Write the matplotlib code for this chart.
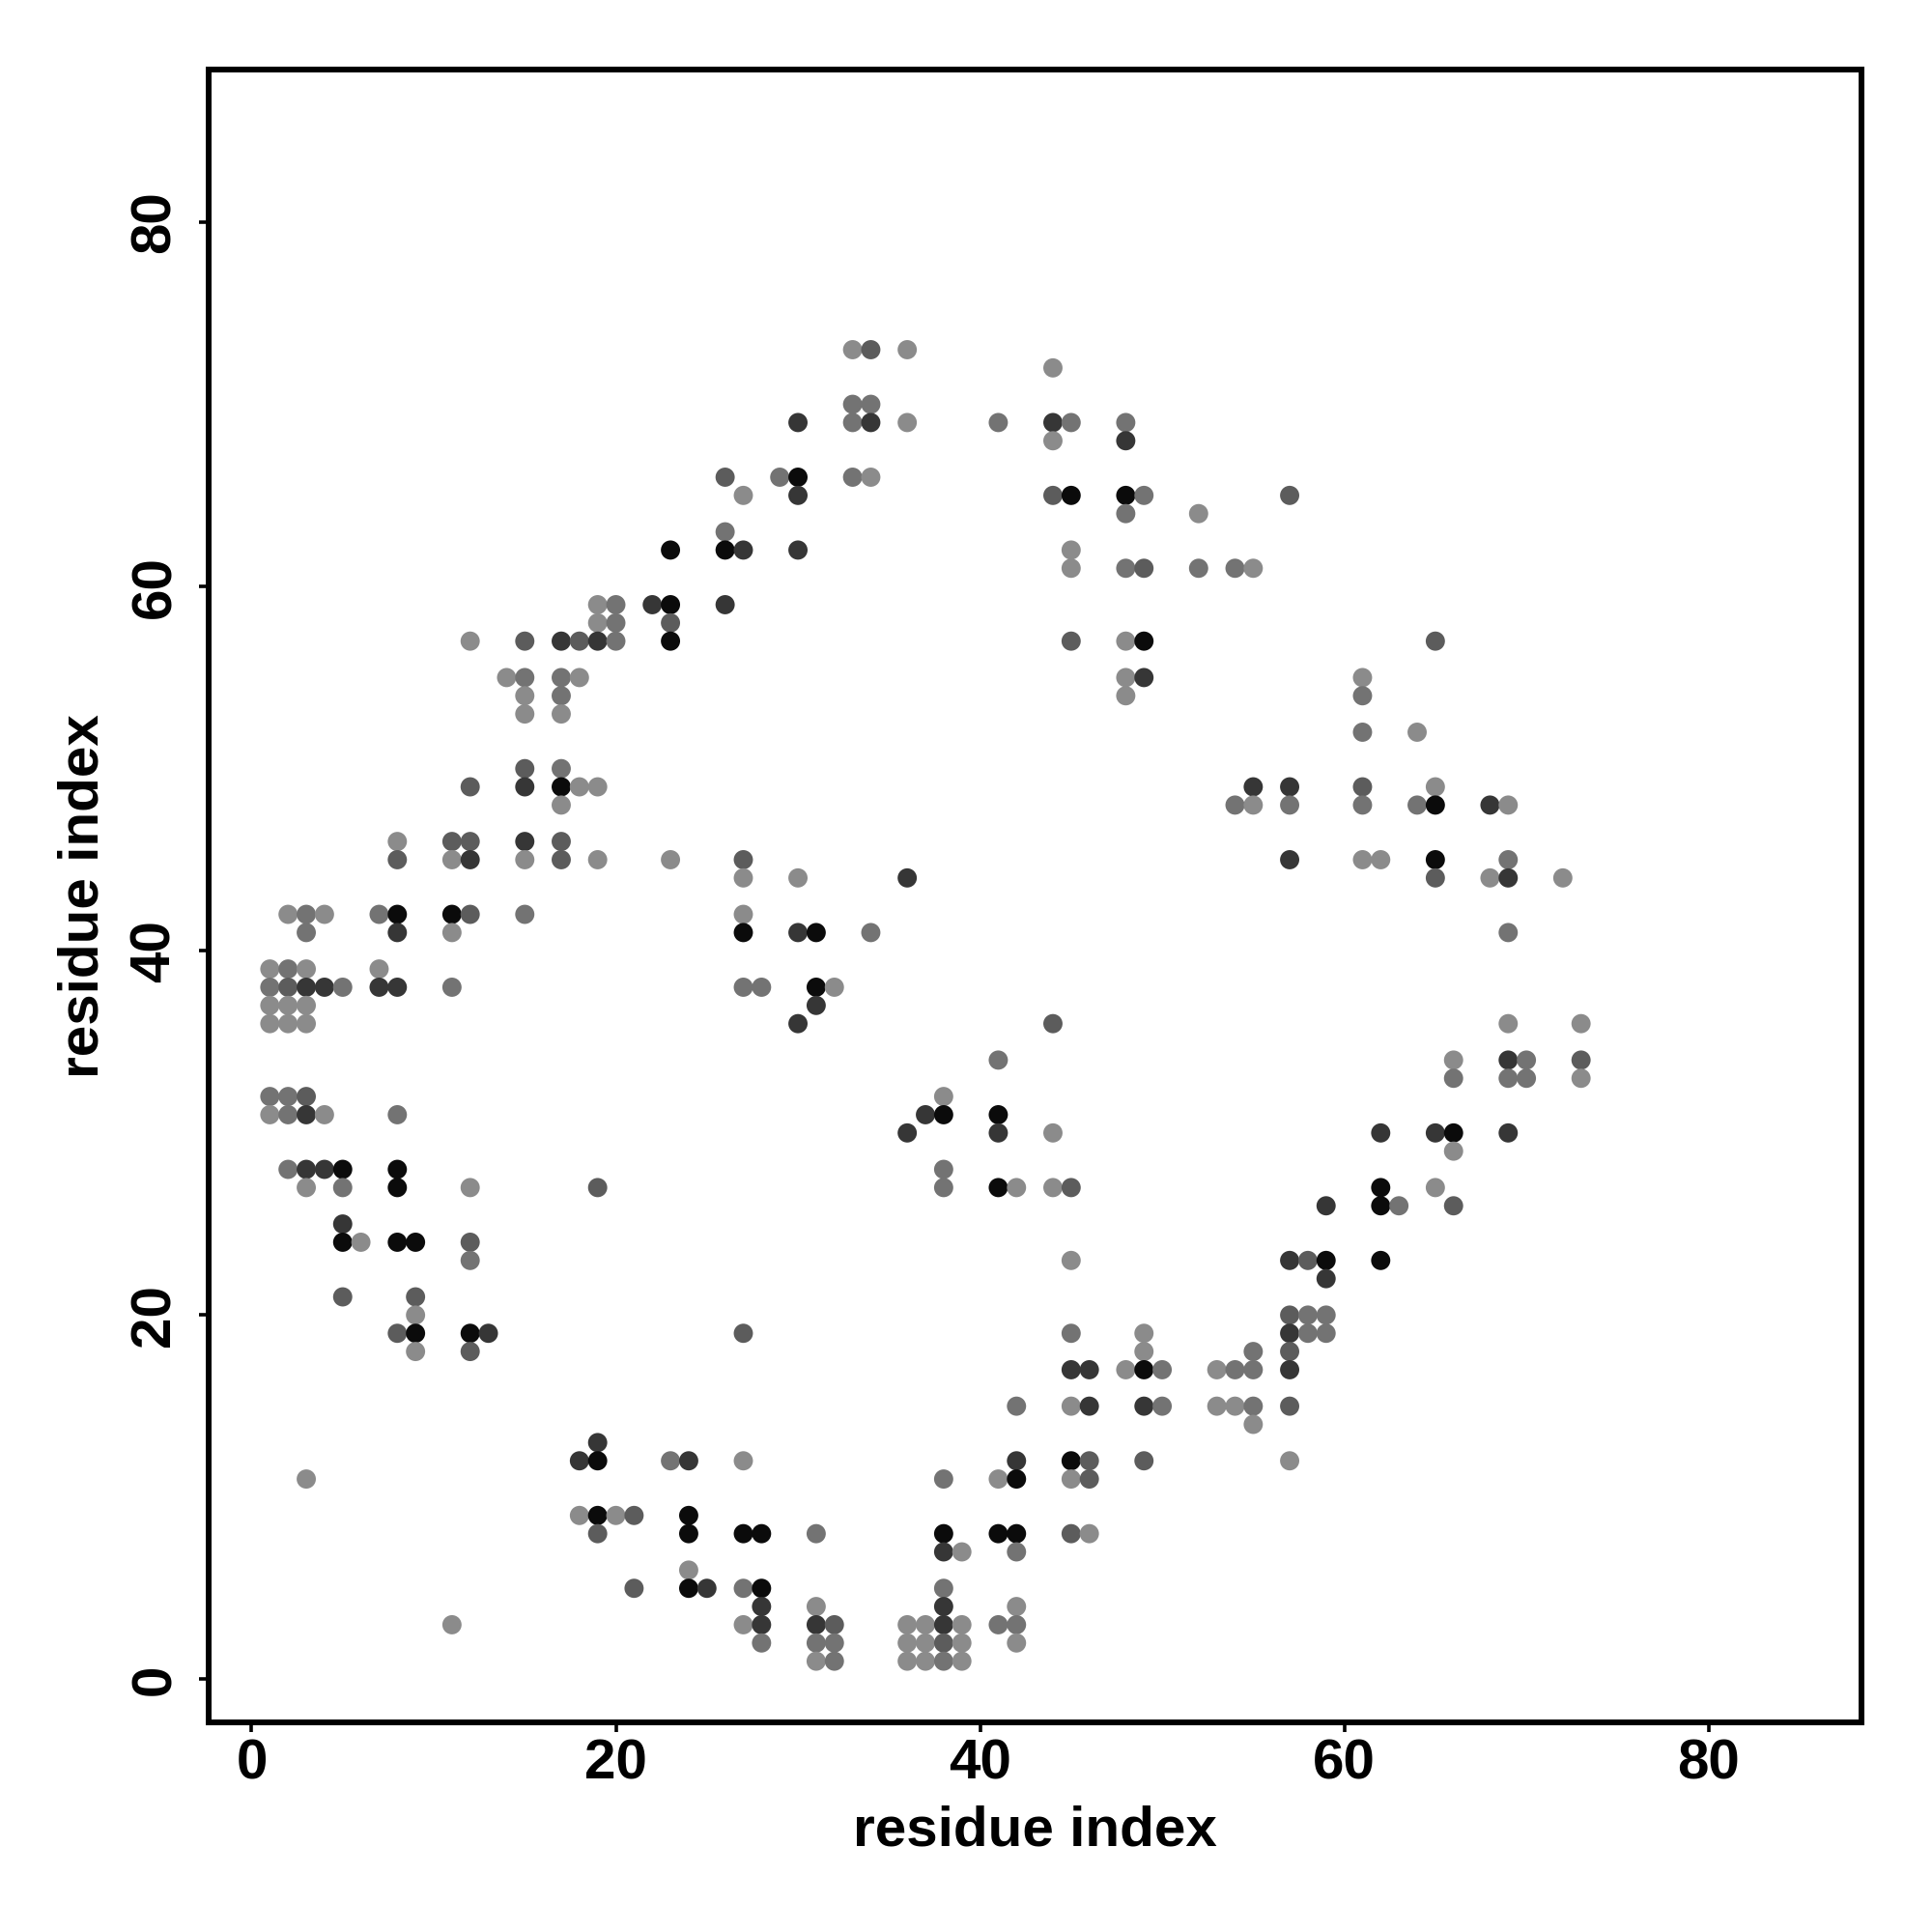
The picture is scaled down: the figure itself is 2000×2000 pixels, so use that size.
import matplotlib
matplotlib.use("Agg")
import matplotlib.pyplot as plt

plt.rcParams['font.family'] = ['Liberation Sans', 'DejaVu Sans']
plt.rcParams['font.weight'] = 'bold'

## contact map: residue i (x), residue j (y), shade of each dot
## shade codes: L light, M mid, S mid-dark, D dark, K black
res_i = [
    33, 34, 36,                                  # 73
    44,                                          # 72
    33, 34,                                      # 70
    30, 33, 34, 36, 41, 44, 45, 48,              # 69
    44, 48,                                      # 68
    26, 29, 30, 33, 34,                          # 66
    27, 30, 44, 45, 48, 49, 57,                  # 65
    48, 52,                                      # 64
    26,                                          # 63
    23, 26, 27, 30, 45,                          # 62
    45, 48, 49, 52, 54, 55,                      # 61
    19, 20, 22, 23, 26,                          # 59
    19, 20, 23,                                  # 58
    12, 15, 17, 18, 19, 20, 23, 45, 48, 49, 65,  # 57
    14, 15, 17, 18, 48, 49, 61,                  # 55
    15, 17, 48, 61,                              # 54
    15, 17,                                      # 53
    61, 64,                                      # 52
    15, 17,                                      # 50
    12, 15, 17, 18, 19, 55, 57, 61, 65,          # 49
    17, 54, 55, 57, 61, 64, 65, 68, 69,          # 48
    8, 11, 12, 15, 17,                           # 46
    8, 11, 12, 15, 17, 19, 23, 27, 57, 61, 62, 65, 69,  # 45
    27, 30, 36, 65, 68, 69, 72,                  # 44
    2, 3, 4, 7, 8, 11, 12, 15, 27,               # 42
    3, 8, 11, 27, 30, 31, 34, 69,                # 41
    1, 2, 3, 7,                                  # 39
    1, 2, 3, 4, 5, 7, 8, 11, 27, 28, 31, 32,     # 38
    1, 2, 3, 31,                                 # 37
    1, 2, 3, 30, 44, 69, 73,                     # 36
    41, 66, 69, 70, 73,                          # 34
    66, 69, 70, 73,                              # 33
    1, 2, 3, 38,                                 # 32
    1, 2, 3, 4, 8, 37, 38, 41,                   # 31
    36, 41, 44, 62, 65, 66, 69,                  # 30
    66,                                          # 29
    2, 3, 4, 5, 8, 38,                           # 28
    3, 5, 8, 12, 19, 38, 41, 42, 44, 45, 62, 65, # 27
    59, 62, 63, 66,                              # 26
    5,                                           # 25
    5, 6, 8, 9, 12,                              # 24
    12, 45, 57, 58, 59, 62,                      # 23
    59,                                          # 22
    5, 9,                                        # 21
    9, 57, 58, 59,                               # 20
    8, 9, 12, 13, 27, 45, 49, 57, 58, 59,        # 19
    9, 12, 49, 55, 57,                           # 18
    45, 46, 48, 49, 50, 53, 54, 55, 57,          # 17
    42, 45, 46, 49, 50, 53, 54, 55, 57,          # 15
    55,                                          # 14
    19,                                          # 13
    18, 19, 23, 24, 27, 42, 45, 46, 49, 57,      # 12
    3, 38, 41, 42, 45, 46,                       # 11
    18, 19, 20, 21, 24,                          # 9
    19, 24, 27, 28, 31, 38, 41, 42, 45, 46,      # 8
    38, 39, 42,                                  # 7
    24,                                          # 6
    21, 24, 25, 27, 28, 38,                      # 5
    28, 31, 38, 42,                              # 4
    11, 27, 28, 31, 32, 36, 37, 38, 39, 41, 42,  # 3
    28, 31, 32, 36, 37, 38, 39, 42,              # 2
    31, 32, 36, 37, 38, 39,                      # 1
]

res_j = (
    [73] * 3 + [72] * 1 + [70] * 2 + [69] * 8 + [68] * 2 + [66] * 5 +
    [65] * 7 + [64] * 2 + [63] * 1 + [62] * 5 + [61] * 6 + [59] * 5 +
    [58] * 3 + [57] * 11 + [55] * 7 + [54] * 4 + [53] * 2 + [52] * 2 +
    [50] * 2 + [49] * 9 + [48] * 9 + [46] * 5 + [45] * 13 + [44] * 7 +
    [42] * 9 + [41] * 8 + [39] * 4 + [38] * 12 + [37] * 4 + [36] * 7 +
    [34] * 5 + [33] * 4 + [32] * 4 + [31] * 8 + [30] * 7 + [29] * 1 +
    [28] * 6 + [27] * 12 + [26] * 4 + [25] * 1 + [24] * 5 + [23] * 6 +
    [22] * 1 + [21] * 2 + [20] * 4 + [19] * 10 + [18] * 5 + [17] * 9 +
    [15] * 9 + [14] * 1 + [13] * 1 + [12] * 10 + [11] * 6 + [9] * 5 +
    [8] * 10 + [7] * 3 + [6] * 1 + [5] * 6 + [4] * 4 + [3] * 11 +
    [2] * 8 + [1] * 6
)

shade = (
    "LSL" "L" "MM" "DMDLMDMM" "LD" "SMKML"
    "LDSKKMS" "ML" "M" "KKDDL" "LMSMML" "LMDKD"
    "LMS" "LSDSDMKSLKS" "LMMLLDL" "LMLM" "LL" "ML"
    "SM" "SDKLLDDSL" "LMLMMMKDL" "LSSDS" "SLDLSLLSDLLKM" "LLDSLDL"
    "LMLMKKSML" "MDLKDKMM" "LMLL" "MSDDMDDMMMKL" "LLLD" "LLLDSLL"
    "MLDMS" "MMML" "MMSL" "LMDLMDKK" "DDLDDKD" "L"
    "MDDKKM" "LMKLSMKLLSKL" "DKMS" "D" "KLKKS" "MLDSKK"
    "D" "SS" "LSMM" "SKKDSMLDMM" "LSLMS" "DDLKMLMMD"
    "MLDDMLLMS" "L" "D" "DKMDLDKSSL" "LMLKLS" "LKLSK"
    "SKKKMKKKSL" "DLM" "L" "SKDMKM" "DLDL" "LLDDSLLDLMM"
    "MMMLLSLL" "LMLLML"
)

gray = {'L': '#8b8b8b', 'M': '#737373', 'S': '#5c5c5c', 'D': '#363636', 'K': '#0b0b0b'}
colors = [gray[c] for c in shade]

fig = plt.figure(figsize=(20, 20), dpi=100)
ax = fig.add_axes([0.108, 0.1085, 0.8555, 0.8557])

ax.scatter(res_i, res_j, s=205, c=colors, marker='o', linewidths=0)

ax.set_xlim(-2.36, 88.4)
ax.set_ylim(-2.36, 88.4)
ax.set_xticks([0, 20, 40, 60, 80])
ax.set_yticks([0, 20, 40, 60, 80])

for sp in ax.spines.values():
    sp.set_linewidth(4.3)

ax.tick_params(axis='both', direction='out', length=7.2, width=2.6,
               labelsize=42)
ax.tick_params(axis='x', pad=5)
ax.tick_params(axis='y', pad=13)
for lab in ax.get_xticklabels() + ax.get_yticklabels():
    lab.set_fontweight('bold')
plt.setp(ax.get_yticklabels(), rotation=90, va='center')

ax.set_xlabel('residue index', fontsize=42, fontweight='bold')
ax.set_ylabel('residue index', fontsize=42, fontweight='bold')
ax.xaxis.set_label_coords(0.5, -0.0502)
ax.yaxis.set_label_coords(-0.0597, 0.5)

fig.savefig('out.png', dpi=100, facecolor='white')
